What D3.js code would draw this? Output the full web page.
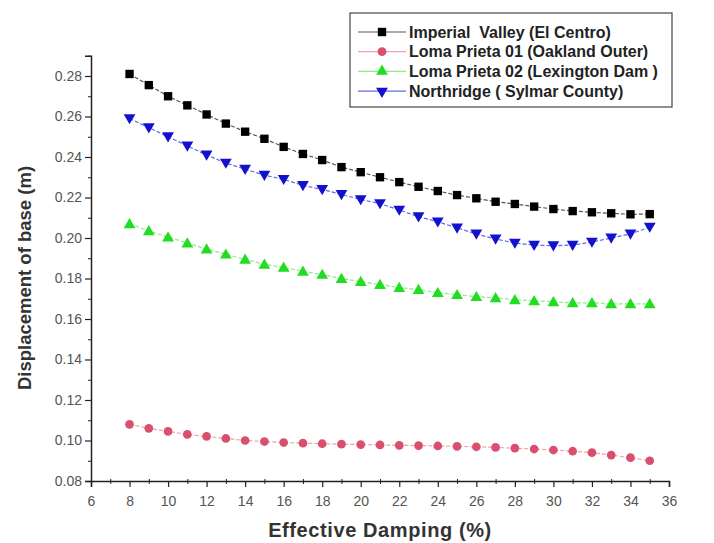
<!DOCTYPE html>
<html>
<head>
<meta charset="utf-8">
<script src="https://cdn.jsdelivr.net/npm/d3@7"></script>
<style>
  body { margin: 0; background: #fff; }
  text { font-family: "Liberation Sans", Arial, sans-serif; }
</style>
</head>
<body>
<div id="chart"></div>
<script>
// Data
const damping = d3.range(8, 36);
const imperialValley = [0.281, 0.2755, 0.270, 0.2655, 0.261, 0.2565, 0.2525, 0.249, 0.245, 0.2415,
  0.2385, 0.235, 0.2325, 0.230, 0.2276, 0.2253, 0.2232, 0.2212, 0.2196, 0.2179,
  0.2168, 0.2155, 0.2143, 0.2133, 0.2127, 0.2122, 0.2117, 0.2118];
const lomaPrieta01 = [0.108, 0.106, 0.1045, 0.103, 0.102, 0.101, 0.100, 0.0995, 0.099, 0.0987,
  0.0984, 0.0982, 0.098, 0.0978, 0.0976, 0.0975, 0.0973, 0.0971, 0.0969, 0.0966,
  0.0962, 0.0958, 0.0953, 0.0947, 0.094, 0.0928, 0.0915, 0.090];
const lomaPrieta02 = [0.207, 0.2035, 0.2005, 0.1975, 0.1945, 0.192, 0.1895, 0.187, 0.1855, 0.1835,
  0.182, 0.180, 0.1785, 0.177, 0.1755, 0.1745, 0.173, 0.172, 0.171, 0.1705,
  0.1695, 0.169, 0.1685, 0.168, 0.168, 0.1675, 0.1675, 0.1675];
const northridge = [0.259, 0.2545, 0.250, 0.2455, 0.241, 0.237, 0.234, 0.231, 0.229, 0.226,
  0.224, 0.2215, 0.219, 0.217, 0.2138, 0.2105, 0.208, 0.205, 0.202, 0.1995,
  0.1975, 0.1965, 0.1962, 0.1965, 0.198, 0.200, 0.202, 0.2054];
const seriesNames = ["Imperial  Valley (El Centro)", "Loma Prieta 01 (Oakland Outer)",
  "Loma Prieta 02 (Lexington Dam )", "Northridge ( Sylmar County)"];
const xTicks = d3.range(6, 37, 2);
const yTicks = [0.08, 0.10, 0.12, 0.14, 0.16, 0.18, 0.20, 0.22, 0.24, 0.26, 0.28];

const series = [
  { name: seriesNames[0], values: imperialValley, fill: "#000", line: "#555", symbol: d3.symbolSquare, size: 70, rot: 0 },
  { name: seriesNames[1], values: lomaPrieta01, fill: "#d9506e", line: "#f0a0b0", symbol: d3.symbolCircle, size: 60, rot: 0 },
  { name: seriesNames[2], values: lomaPrieta02, fill: "#22dd22", line: "#88ee88", symbol: d3.symbolTriangle, size: 60, rot: 0 },
  { name: seriesNames[3], values: northridge, fill: "#1212cc", line: "#6666ee", symbol: d3.symbolTriangle, size: 60, rot: 180 }
];

// Dimensions
const W = 714, H = 543;
const svg = d3.select("#chart").append("svg")
  .attr("width", W)
  .attr("height", H);

svg.append("rect").attr("width", W).attr("height", H).style("fill", "#fff");

const x = d3.scaleLinear().domain([6, 36]).range([91, 669]);
const y = d3.scaleLinear().domain([0.08, 0.29]).range([481, 55.75]);

// Minor ticks
const axisColor = "#222";
svg.append("g")
  .attr("transform", `translate(0,${y(0.08)})`)
  .call(d3.axisBottom(x).tickValues(d3.range(7, 36, 2)).tickSize(3).tickFormat(""))
  .call(g => g.select(".domain").remove())
  .call(g => g.selectAll("line").attr("stroke", axisColor).attr("y1", -2));
svg.append("g")
  .attr("transform", `translate(${x(6)},0)`)
  .call(d3.axisLeft(y).tickValues(d3.range(0.09, 0.291, 0.02)).tickSize(3).tickFormat(""))
  .call(g => g.select(".domain").remove())
  .call(g => g.selectAll("line").attr("stroke", axisColor));

// Major axes
const xAxis = svg.append("g")
  .attr("transform", `translate(0,${y(0.08)})`)
  .call(d3.axisBottom(x).tickValues(xTicks).tickSize(6).tickPadding(9).tickFormat(d3.format("d")));
const yAxis = svg.append("g")
  .attr("transform", `translate(${x(6)},0)`)
  .call(d3.axisLeft(y).tickValues(yTicks).tickSize(6).tickPadding(3).tickFormat(d3.format(".2f")));

[xAxis, yAxis].forEach(a => {
  a.select(".domain").attr("stroke", axisColor).attr("stroke-width", 1.5);
  a.selectAll("line").attr("stroke", axisColor).attr("stroke-width", 1.2);
  a.selectAll("text").attr("fill", "#555").style("font-size", "14px");
});

// Axis titles
svg.append("text")
  .attr("x", 380).attr("y", 537)
  .attr("text-anchor", "middle")
  .attr("fill", "#333")
  .style("font-size", "20px").style("font-weight", "bold")
  .style("letter-spacing", "0.6px")
  .text("Effective Damping (%)");
svg.append("text")
  .attr("transform", `translate(31,278) rotate(-90)`)
  .attr("text-anchor", "middle")
  .attr("fill", "#333")
  .style("font-size", "18.5px").style("font-weight", "bold")
  .text("Displacement of base (m)");

// Lines and markers
const line = d3.line().x((d, i) => x(damping[i])).y(d => y(d));
series.forEach(s => {
  svg.append("path")
    .datum(s.values)
    .attr("d", line)
    .attr("fill", "none")
    .attr("stroke", s.line)
    .attr("stroke-width", 1.2)
    .attr("stroke-dasharray", "4,2");
  svg.append("g").selectAll("path")
    .data(s.values)
    .join("path")
    .attr("d", d3.symbol().type(s.symbol).size(s.size))
    .attr("transform", (d, i) => `translate(${x(damping[i])},${y(d) + (s.rot ? -1 : (s.symbol === d3.symbolTriangle ? 1 : 0))}) rotate(${s.rot})`)
    .attr("fill", s.fill);
});

// Legend
const legend = svg.append("g").attr("transform", "translate(350,13)");
legend.append("rect")
  .attr("width", 322).attr("height", 94)
  .attr("fill", "#fff").attr("stroke", "#444").attr("stroke-width", 1.2);
series.forEach((s, i) => {
  const ly = 19 + i * 19.7;
  legend.append("line")
    .attr("x1", 8).attr("x2", 56).attr("y1", ly).attr("y2", ly)
    .attr("stroke", s.line).attr("stroke-width", 1.2);
  legend.append("path")
    .attr("d", d3.symbol().type(s.symbol).size(s.size))
    .attr("transform", `translate(32,${ly}) rotate(${s.rot})`)
    .attr("fill", s.fill);
  legend.append("text")
    .attr("x", 59).attr("y", ly + 5.5)
    .attr("fill", "#222")
    .style("font-size", "16px").style("font-weight", "bold")
    .style("white-space", "pre")
    .text(s.name);
});
</script>
</body>
</html>
